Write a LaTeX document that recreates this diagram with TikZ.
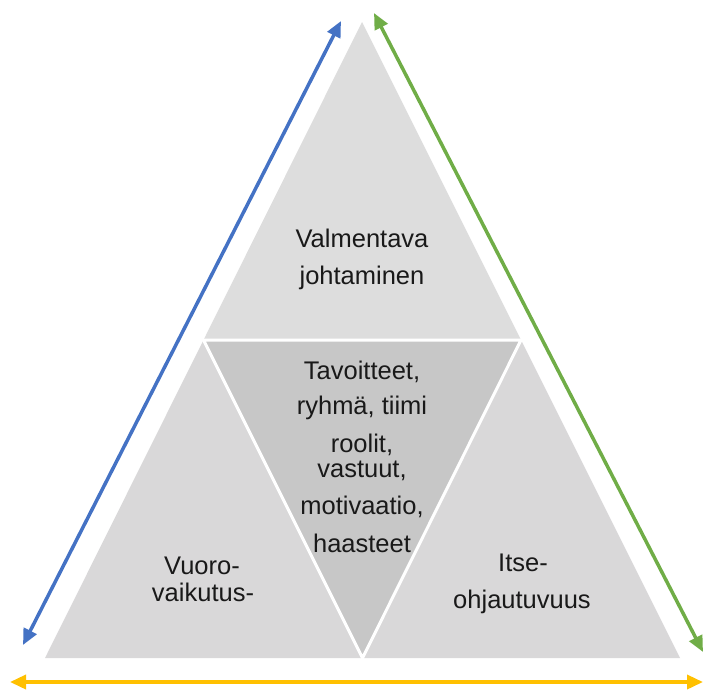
\documentclass[tikz,border=0pt]{standalone}
\usepackage{fontspec}
\setmainfont{Liberation Sans}
\usetikzlibrary{arrows.meta}
\definecolor{topgray}{HTML}{DDDDDD}
\definecolor{sidegray}{HTML}{D9D8D9}
\definecolor{midgray}{HTML}{C7C7C7}
\definecolor{arrblue}{HTML}{4472C4}
\definecolor{arrgreen}{HTML}{70AD47}
\definecolor{arrgold}{HTML}{FFC000}
\tikzset{
  label text/.style={anchor=base, inner sep=0pt, text=black!90,
    font=\fontsize{25.5}{29}\selectfont},
  side arrow/.style={line width=3.5pt, {Triangle[length=16pt,width=14pt]}-{Triangle[length=16pt,width=14pt]}},
  gap line/.style={draw=white, line width=3pt, line join=miter},
}
\begin{document}
\begin{tikzpicture}[x=1pt, y=-1pt]
\useasboundingbox (0,0) rectangle (703,691);

% corners of the big triangle and the midpoints of its sides
\coordinate (apex) at (362,22);
\coordinate (bl) at (45,658);
\coordinate (br) at (680,658);
\coordinate (ml) at (203.5,340);
\coordinate (mr) at (521,340);
\coordinate (mb) at (362.5,658);

% four sub-triangles
\fill[topgray] (apex) -- (ml) -- (mr) -- cycle;
\fill[sidegray] (ml) -- (bl) -- (mb) -- cycle;
\fill[sidegray] (mr) -- (mb) -- (br) -- cycle;
\fill[midgray] (ml) -- (mr) -- (mb) -- cycle;
\draw[gap line] (ml) -- (mr) -- (mb) -- cycle;

% double-headed arrows along the sides
\coordinate (bluelow) at (23,645);
\coordinate (bluehigh) at (341,21);
\coordinate (greenhigh) at (374,13);
\coordinate (greenlow) at (703,652);
\coordinate (goldleft) at (10,682);
\coordinate (goldright) at (703,682);
\draw[side arrow, arrblue] (bluelow) -- (bluehigh);
\draw[side arrow, arrgreen] (greenhigh) -- (greenlow);
\draw[side arrow, arrgold] (goldleft) -- (goldright);

% texts
\node[label text] (top1) at (362,247) {Valmentava};
\node[label text] (top2) at (362,284) {johtaminen};

\node[label text] (mid1) at (362,379) {Tavoitteet,};
\node[label text] (mid2) at (362,414) {ryhmä, tiimi};
\node[label text] (mid3) at (362,452) {roolit,};
\node[label text] (mid4) at (362,477) {vastuut,};
\node[label text] (mid5) at (362,514) {motivaatio,};
\node[label text] (mid6) at (362,552) {haasteet};

\node[label text] (left1) at (202,574) {Vuoro-};
\node[label text] (left2) at (203,601) {vaikutus-};

\node[label text] (right1) at (523,571) {Itse-};
\node[label text] (right2) at (522,608) {ohjautuvuus};
\end{tikzpicture}
\end{document}
